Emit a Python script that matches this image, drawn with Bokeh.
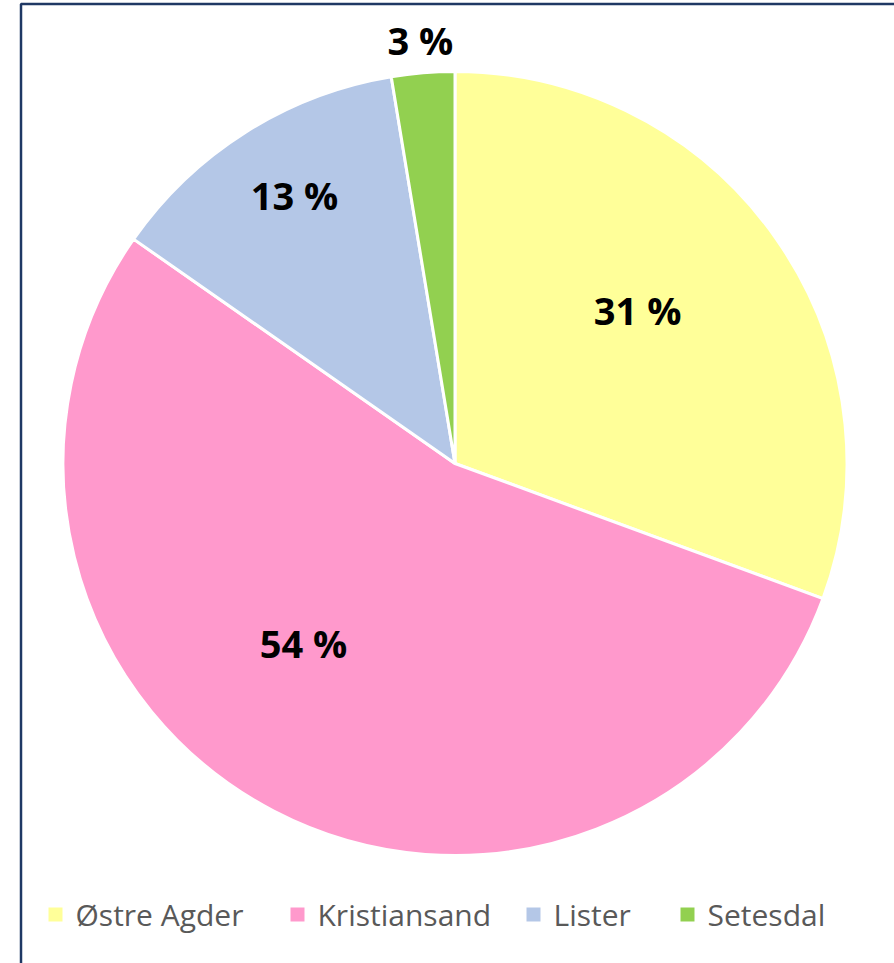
import math
from bokeh.plotting import figure
from bokeh.models import Range1d, ColumnDataSource
from bokeh.core.properties import value
from bokeh.embed import file_html
from bokeh.resources import INLINE

# ---- data ----
categories = ["Østre Agder", "Kristiansand", "Lister", "Setesdal"]
shares = [30.6, 54.1, 12.7, 2.6]
colors = ["#FFFF99", "#FF99CC", "#B4C7E7", "#92D050"]

# ---- layout / style ----
W, H = 894, 963
CX, CY, R = 454.5, 500.0, 392.0
label_rfrac = [0.608, 0.600, 0.797, 1.083]
label_nudge_deg = [5.06, -12.56, -1.3, 0.0]
legend_x = [48, 290, 526, 680]
legend_y = 49
label_font = "Open Sans"

p = figure(width=W, height=H, output_backend="svg", toolbar_location=None,
           x_range=Range1d(0, W), y_range=Range1d(0, H),
           x_axis_type=None, y_axis_type=None, min_border=0,
           min_border_left=0, min_border_right=0, min_border_top=0, min_border_bottom=0)
p.grid.visible = False
p.outline_line_color = None
p.background_fill_color = "white"
p.border_fill_color = "white"

total = sum(shares)
starts, ends, mids = [], [], []
cum = 0.0
for s in shares:
    a0 = math.pi / 2 - cum / total * 2 * math.pi
    cum += s
    a1 = math.pi / 2 - cum / total * 2 * math.pi
    starts.append(a0)
    ends.append(a1)
    mids.append((a0 + a1) / 2)

src = ColumnDataSource(dict(x=[CX] * len(shares), y=[CY] * len(shares),
                            start=starts, end=ends, color=colors))
p.wedge(x="x", y="y", radius=R, start_angle="start", end_angle="end",
        direction="clock", fill_color="color", line_color="white",
        line_width=3, source=src)

lx, ly, lt = [], [], []
for i, s in enumerate(shares):
    a = mids[i] + math.radians(label_nudge_deg[i])
    r = R * label_rfrac[i]
    lx.append(CX + r * math.cos(a))
    ly.append(CY + r * math.sin(a))
    lt.append(f"{s:.0f} %")
p.text(x=lx, y=ly, text=lt, text_align="center", text_baseline="middle",
       text_font=value(label_font), text_font_style="bold",
       text_font_size="38px", text_color="#000000")

# legend
p.scatter(x=[x + 7 for x in legend_x], y=[legend_y] * len(categories),
          marker="square", size=14, fill_color=colors, line_color=None)
p.text(x=[x + 27 for x in legend_x], y=[legend_y] * len(categories), text=categories,
       text_align="left", text_baseline="middle", text_font=value(label_font),
       text_font_size="30px", text_color="#595959")

# frame
p.line(x=[20.5, 20.5, W + 10], y=[-10, H - 3.5, H - 3.5], line_color="#1F3864", line_width=2.5)

open("out.html", "w").write(file_html(p, INLINE))
